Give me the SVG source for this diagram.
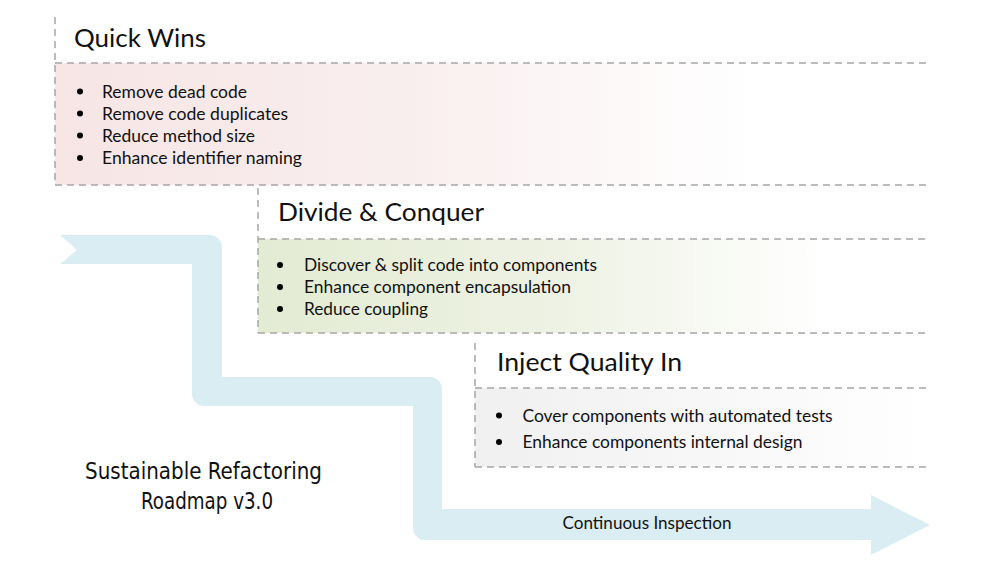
<svg xmlns="http://www.w3.org/2000/svg" width="1000" height="563" viewBox="0 0 1000 563">
  <style>
    .dash { fill: none; stroke: #A6A6A6; stroke-width: 1.5; stroke-dasharray: 7 5; }
    .title { font-family: Lato, "Open Sans", sans-serif; font-size: 25.5px; fill: #111; }
    .item { font-family: Lato, "Open Sans", sans-serif; font-size: 17px; fill: #111; }
    .bullet { fill: #000; }
    .road { font-family: "DejaVu Sans Condensed", "DejaVu Sans", sans-serif; font-size: 23px; fill: #111; }
    .flow { font-family: Lato, "Open Sans", sans-serif; font-size: 17px; fill: #111; }
  </style>
  <defs>
    <linearGradient id="gPink" x1="0" y1="0" x2="1" y2="0">
      <stop offset="0" stop-color="#F7E5E5"/>
      <stop offset="0.4" stop-color="#F9EEEE"/>
      <stop offset="0.8" stop-color="#FFFFFF"/>
    </linearGradient>
    <linearGradient id="gGreen" x1="0" y1="0" x2="1" y2="0">
      <stop offset="0" stop-color="#E3EBD3"/>
      <stop offset="0.45" stop-color="#EEF2E4"/>
      <stop offset="0.85" stop-color="#FFFFFF"/>
    </linearGradient>
    <linearGradient id="gGrey" x1="0" y1="0" x2="1" y2="0">
      <stop offset="0" stop-color="#F0F0F0"/>
      <stop offset="0.5" stop-color="#F7F7F7"/>
      <stop offset="1" stop-color="#FFFFFF"/>
    </linearGradient>
  </defs>
  <rect width="1000" height="563" fill="#FFFFFF"/>

  <g id="connectors">
    <path id="roadmap-arrow" fill="#DAEDF3" d="M60,235 L210,235 A12,12 0 0 1 222,247 L222,377 L430,377 A12,12 0 0 1 442,389 L442,509 L871,509 L871,495 L930,525 L871,555 L871,540 L425,540 A12,12 0 0 1 413,528 L413,406 L204,406 A12,12 0 0 1 192,394 L192,264 L60,264 L77,250 Z"/>
    <text class="flow" x="562.5" y="528.5" textLength="169" lengthAdjust="spacingAndGlyphs">Continuous Inspection</text>
  </g>

  <g id="quick-wins">
    <rect x="55" y="63" width="875" height="122" fill="url(#gPink)"/>
    <path class="dash" d="M55,17 L55,185 M55,63 L930,63 M55,185 L930,185"/>
    <text class="title" x="74" y="47" textLength="132" lengthAdjust="spacingAndGlyphs">Quick Wins</text>
    <circle class="bullet" cx="80" cy="91.5" r="3"/>
    <circle class="bullet" cx="80" cy="113.5" r="3"/>
    <circle class="bullet" cx="80" cy="135.5" r="3"/>
    <circle class="bullet" cx="80" cy="158" r="3"/>
    <text class="item" x="102" y="97.5" textLength="145" lengthAdjust="spacingAndGlyphs">Remove dead code</text>
    <text class="item" x="102" y="119.5" textLength="186" lengthAdjust="spacingAndGlyphs">Remove code duplicates</text>
    <text class="item" x="102" y="141.5" textLength="153" lengthAdjust="spacingAndGlyphs">Reduce method size</text>
    <text class="item" x="102" y="164" textLength="200" lengthAdjust="spacingAndGlyphs">Enhance identifier naming</text>
  </g>

  <g id="divide-conquer">
    <rect x="258" y="239" width="672" height="94" fill="url(#gGreen)"/>
    <path class="dash" d="M258,188 L258,333 M258,239 L930,239 M258,333 L930,333"/>
    <text class="title" x="278" y="221" textLength="206" lengthAdjust="spacingAndGlyphs">Divide &amp; Conquer</text>
    <circle class="bullet" cx="280" cy="265" r="3"/>
    <circle class="bullet" cx="280" cy="287" r="3"/>
    <circle class="bullet" cx="280" cy="309" r="3"/>
    <text class="item" x="304" y="271" textLength="293" lengthAdjust="spacingAndGlyphs">Discover &amp; split code into components</text>
    <text class="item" x="304" y="293" textLength="267" lengthAdjust="spacingAndGlyphs">Enhance component encapsulation</text>
    <text class="item" x="304" y="315" textLength="124" lengthAdjust="spacingAndGlyphs">Reduce coupling</text>
  </g>

  <g id="inject-quality">
    <rect x="475" y="388" width="455" height="79" fill="url(#gGrey)"/>
    <path class="dash" d="M475,343 L475,467 M475,388 L930,388 M475,467 L930,467"/>
    <text class="title" x="497" y="371" textLength="185" lengthAdjust="spacingAndGlyphs">Inject Quality In</text>
    <circle class="bullet" cx="499" cy="415.5" r="3"/>
    <circle class="bullet" cx="499" cy="442" r="3"/>
    <text class="item" x="522.5" y="421.5" textLength="310" lengthAdjust="spacingAndGlyphs">Cover components with automated tests</text>
    <text class="item" x="522.5" y="448" textLength="280" lengthAdjust="spacingAndGlyphs">Enhance components internal design</text>
  </g>

  <g id="roadmap-title">
    <text class="road" x="85" y="479" textLength="237" lengthAdjust="spacingAndGlyphs">Sustainable Refactoring</text>
    <text class="road" x="141" y="508.5" textLength="132" lengthAdjust="spacingAndGlyphs">Roadmap v3.0</text>
  </g>
</svg>
